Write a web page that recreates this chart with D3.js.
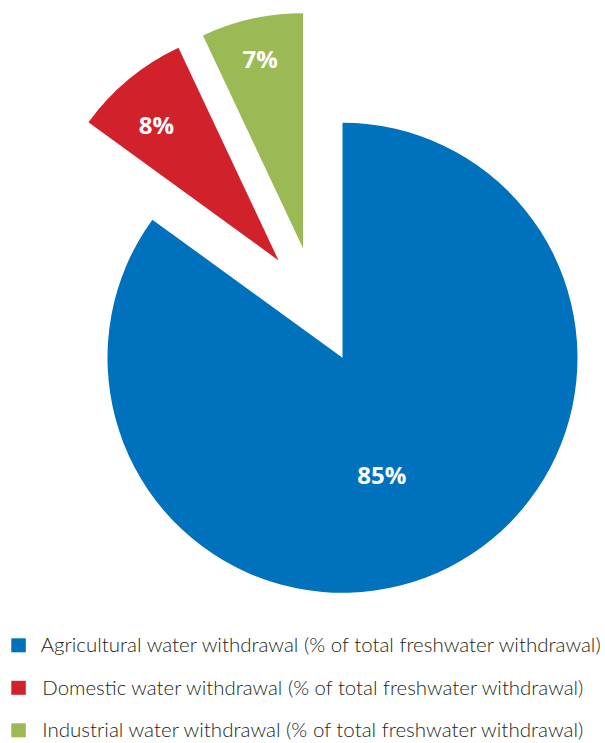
<!DOCTYPE html>
<html>
<head>
<meta charset="utf-8">
<script src="https://cdn.jsdelivr.net/npm/d3@7"></script>
<style>
  html, body { margin: 0; padding: 0; background: #fff; }
  svg { display: block; }
</style>
</head>
<body>
<svg id="chart" width="605" height="743"></svg>
<script>
// ---- data ----
const categories = [
  "Agricultural water withdrawal (% of total freshwater withdrawal)",
  "Domestic water withdrawal (% of total freshwater withdrawal)",
  "Industrial water withdrawal (% of total freshwater withdrawal)"
];
const values = [85, 8, 7];
const valueLabels = ["85%", "8%", "7%"];
const exploded = [false, true, true];
const colors = ["#0071BC", "#D1222B", "#9BBA56"];

// ---- layout ----
const svg = d3.select("#chart");
const cx = 342.5, cy = 357.8, r = 235;
const explodeDist = 116.5;

const pie = d3.pie().sort(null).value(d => d);
const arcs = pie(values);
const arc = d3.arc().innerRadius(0).outerRadius(r);

// mid-angle of the exploded group
const exArcs = arcs.filter((a, i) => exploded[i]);
const groupMid = (d3.min(exArcs, a => a.startAngle) + d3.max(exArcs, a => a.endAngle)) / 2;

function offset(a, i) {
  if (!exploded[i]) return [0, 0];
  const mid = (a.startAngle + a.endAngle) / 2;
  const ang = (groupMid + mid) / 2;
  return [explodeDist * Math.sin(ang), -explodeDist * Math.cos(ang)];
}

const g = svg.append("g").attr("transform", `translate(${cx},${cy})`);

const slices = g.selectAll("g.slice")
  .data(arcs)
  .join("g")
  .attr("class", "slice")
  .attr("transform", (a, i) => { const o = offset(a, i); return `translate(${o[0]},${o[1]})`; });

slices.append("path")
  .attr("d", arc)
  .attr("fill", (a, i) => colors[i]);

slices.append("text")
  .attr("transform", (a, i) => {
    let mid = (a.startAngle + a.endAngle) / 2;
    let lr;
    if (exploded[i]) {
      mid += (i === 1 ? -2.5 : -0.2) * Math.PI / 180;
      lr = i === 1 ? 0.775 * r : 0.825 * r;
    } else {
      lr = 0.526 * r;
      mid += 8.5 * Math.PI / 180;
    }
    return `translate(${lr * Math.sin(mid)},${-lr * Math.cos(mid)})`;
  })
  .attr("text-anchor", "middle")
  .attr("dy", "0.36em")
  .attr("fill", "#fff")
  .style("font-family", "'Open Sans', sans-serif")
  .style("font-weight", 700)
  .style("font-size", "24px")
  .text((a, i) => valueLabels[i]);

// ---- legend ----
const legendWidths = [560, 541, 541];
const legend = svg.append("g");
const rows = legend.selectAll("g.row")
  .data(categories)
  .join("g")
  .attr("class", "row")
  .attr("transform", (d, i) => `translate(0,${652.3 + i * 42.5})`);

rows.append("rect")
  .attr("x", 11.3)
  .attr("y", -14)
  .attr("width", 14.5)
  .attr("height", 14)
  .attr("fill", (d, i) => colors[i]);

rows.append("text")
  .attr("x", (d, i) => i === 0 ? 40.7 : 42.3)
  .attr("y", 0)
  .attr("fill", "#231F20")
  .attr("textLength", (d, i) => legendWidths[i])
  .attr("lengthAdjust", "spacingAndGlyphs")
  .style("font-family", "Lato, sans-serif")
  .style("font-weight", 300)
  .style("font-size", "20px")
  .text(d => d);
</script>
</body>
</html>
